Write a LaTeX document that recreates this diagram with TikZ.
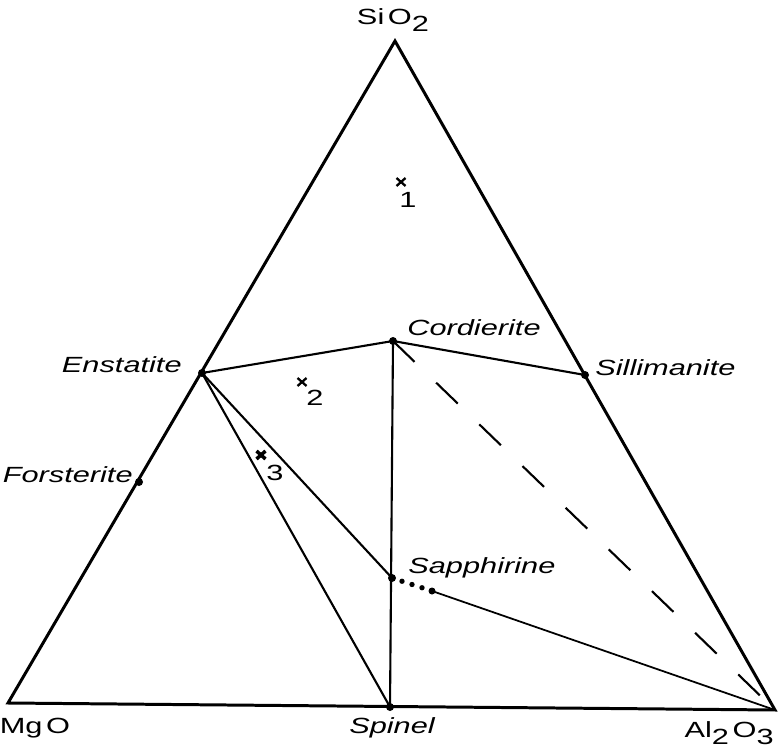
\documentclass[tikz,border=0pt]{standalone}
\usepackage{fontspec}
\setmainfont{Liberation Sans}[FakeStretch=1.4]
\usetikzlibrary{calc}
\newcommand{\phSub}[1]{\raisebox{-0.55ex}{#1}}
\newcommand{\phCross}[3]{%
    \draw[#3] (#1-4.5,#2-4) -- (#1+4.5,#2+4);
    \draw[#3] (#1-4.5,#2+4) -- (#1+4.5,#2-4);
}
\tikzset{
    phLabel/.style={font=\fontsize{12.5}{14}\selectfont\itshape, inner sep=0pt},
    oxLabel/.style={font=\fontsize{12.5}{14}\selectfont, inner sep=0pt},
    outline/.style={line width=1.7pt, line join=miter},
    tieLine/.style={line width=1.2pt},
}

\begin{document}
\begin{tikzpicture}[x=0.2mm, y=-0.2mm]
    \useasboundingbox (0,0) rectangle (783,746);
    \coordinate (sio) at (395,41);
    \coordinate (mgo) at (8,703);
    \coordinate (alo) at (775,710);
    \coordinate (enst) at (202,373);
    \coordinate (fors) at (139,482);
    \coordinate (cord) at (393,341);
    \coordinate (sill) at (585,375);
    \coordinate (spin) at (390,707);
    \coordinate (sapp) at (392,578);
    \coordinate (sappEnd) at (432,591);

    \draw[outline] (mgo) -- (sio) -- (alo) -- cycle;
    \draw[tieLine] (enst) -- (cord) -- (sill);
    \draw[tieLine] (cord) -- (spin);
    \draw[tieLine] (enst) -- (spin);
    \draw[tieLine] (enst) -- (sapp);
    \draw[line width=1pt] (sappEnd) -- (alo);
    \draw[tieLine, dash pattern=on 6mm off 6mm] (cord) -- (alo);

    \foreach \p in {enst, fors, cord, sill, spin, sapp} {
        \fill (\p) circle (4);
    }
    \fill (sappEnd) circle (3.5);
    \foreach \t in {0.25, 0.5, 0.75} {
        \fill ($(sapp)!\t!(sappEnd)$) circle (2.7);
    }

    \node[oxLabel] (sioLbl) at (393,20) {Si\,O\phSub{2}};
    \node[oxLabel] (mgoLbl) at (35,728) {Mg\,O};
    \node[oxLabel, anchor=east] (aloLbl) at (774,733) {Al\phSub{2}\,O\phSub{3}};
    \node[phLabel] (spinLbl) at (392,728) {Spinel};
    \node[phLabel, anchor=east] (enstLbl) at (182,365) {Enstatite};
    \node[phLabel, anchor=east] (forsLbl) at (133,475) {Forsterite};
    \node[phLabel, anchor=west] (cordLbl) at (407,328) {Cordierite};
    \node[phLabel, anchor=west] (sillLbl) at (595,368) {Sillimanite};
    \node[phLabel, anchor=west] (sappLbl) at (408,568) {Sapphirine};

    \phCross{401}{182}{line width=1.3pt}
    \phCross{302}{382}{line width=1.3pt}
    \phCross{261}{455}{line width=2pt}
    \node[oxLabel] (mixOne) at (408,200) {1};
    \node[oxLabel] (mixTwo) at (315,398) {2};
    \node[oxLabel] (mixThree) at (275,473) {3};
\end{tikzpicture}
\end{document}
